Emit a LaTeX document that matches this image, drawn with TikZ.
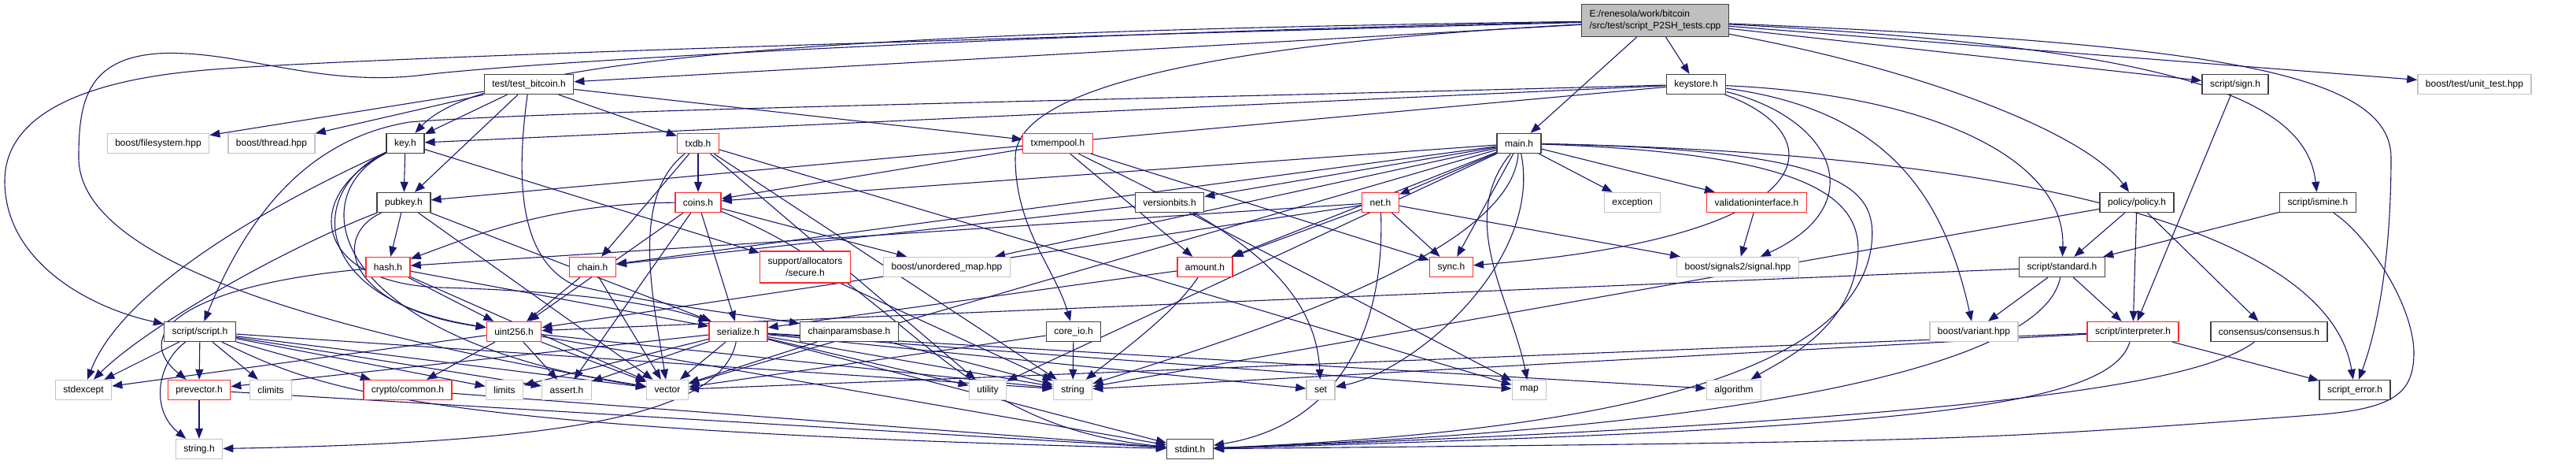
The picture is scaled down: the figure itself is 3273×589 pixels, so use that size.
\documentclass[tikz,border=0pt]{standalone}
\usepackage{fontspec}
\setmainfont{Liberation Sans}
\usetikzlibrary{arrows.meta}

\definecolor{linkblue}{HTML}{191970}
\definecolor{frameblack}{HTML}{404040}
\definecolor{framered}{HTML}{FF2A2A}
\definecolor{framegray}{HTML}{C4C4C4}
\definecolor{rootgray}{HTML}{BFBFBF}

\pgfdeclarelayer{edges}
\pgfsetlayers{edges,main}

\begin{document}
\begin{tikzpicture}[x=0.5pt, y=-0.5pt,
  >={Triangle[length=6.5pt,width=5pt]},
  hdr/.style={draw=frameblack, line width=0.7pt, fill=white,
    font=\fontsize{6}{7.5}\selectfont, inner xsep=5pt, inner ysep=0pt,
    minimum height=12.5pt},
  hdrred/.style={hdr, draw=framered},
  hdrsys/.style={hdr, draw=framegray},
  dep/.style={->, draw=linkblue, line width=0.55pt}]

\useasboundingbox (0,0) rectangle (3273,589);

\node[hdr, fill=rootgray, align=left, minimum height=20.5pt] (root) at (2103,26) {E:/renesola/work/bitcoin\\/src/test/script\_P2SH\_tests.cpp};

\node[hdr] (test_bitcoin) at (672,107) {test/test\_bitcoin.h};
\node[hdr] (keystore) at (2155,107) {keystore.h};
\node[hdr] (sign) at (2840,107) {script/sign.h};
\node[hdrsys] (unittest) at (3144,107) {boost/test/unit\_test.hpp};

\node[hdrsys] (filesystem) at (201,182) {boost/filesystem.hpp};
\node[hdrsys] (thread) at (345,182) {boost/thread.hpp};
\node[hdr] (key) at (515,182) {key.h};
\node[hdrred] (txdb) at (887,182) {txdb.h};
\node[hdrred] (txmempool) at (1344,182) {txmempool.h};
\node[hdr] (main) at (1930,182) {main.h};

\node[hdr] (pubkey) at (513,257) {pubkey.h};
\node[hdrred] (coins) at (887,257) {coins.h};
\node[hdr] (versionbits) at (1486,257) {versionbits.h};
\node[hdrred] (net) at (1754,257) {net.h};
\node[hdrsys] (exception) at (2074,257) {exception};
\node[hdrred] (validation) at (2232,257) {validationinterface.h};
\node[hdr] (policy) at (2715,257) {policy/policy.h};
\node[hdr] (ismine) at (2945,257) {script/ismine.h};

\node[hdrred] (hash) at (493,339) {hash.h};
\node[hdrred] (chain) at (753,339) {chain.h};
\node[hdrred, align=center, minimum height=20pt] (secure) at (1023,339) {support/allocators\\/secure.h};
\node[hdrsys] (unorderedmap) at (1203,339) {boost/unordered\_map.hpp};
\node[hdrred] (amount) at (1531,339) {amount.h};
\node[hdrred] (sync) at (1844,339) {sync.h};
\node[hdrsys] (signals) at (2208,339) {boost/signals2/signal.hpp};
\node[hdr] (standard) at (2620,339) {script/standard.h};

\node[hdr] (scriptscript) at (254,421) {script/script.h};
\node[hdrred] (uint) at (653,421) {uint256.h};
\node[hdrred] (serialize) at (938,421) {serialize.h};
\node[hdr] (chainparams) at (1079,421) {chainparamsbase.h};
\node[hdr] (coreio) at (1364,421) {core\_io.h};
\node[hdrsys] (variant) at (2508,421) {boost/variant.hpp};
\node[hdrred] (interpreter) at (2710,421) {script/interpreter.h};
\node[hdr] (consensus) at (2883,421) {consensus/consensus.h};

\node[hdrsys] (stdexcept) at (106,495) {stdexcept};
\node[hdrred] (prevector) at (253,495) {prevector.h};
\node[hdrsys] (climits) at (344,495) {climits};
\node[hdrred] (cryptocommon) at (518,495) {crypto/common.h};
\node[hdrsys] (limits) at (641,495) {limits};
\node[hdrsys] (assert) at (720,495) {assert.h};
\node[hdrsys] (vector) at (848,495) {vector};
\node[hdrsys] (utility) at (1255,495) {utility};
\node[hdrsys] (string) at (1363,495) {string};
\node[hdrsys] (set) at (1678,495) {set};
\node[hdrsys] (map) at (1943,495) {map};
\node[hdrsys] (algorithm) at (2203,495) {algorithm};
\node[hdr] (scripterror) at (2992,495) {script\_error.h};

\node[hdrsys] (stringh) at (253,570) {string.h};
\node[hdr] (stdint) at (1512,570) {stdint.h};

\begin{pgfonlayer}{edges}
% the test file
\draw[dep] (root) -- (test_bitcoin);
\draw[dep] (root) -- (keystore);
\draw[dep] (root) -- (main);
\draw[dep] (root) -- (sign);
\draw[dep] (root) -- (unittest);
\draw[dep] (root) .. controls (2450,90) and (2650,170) .. (policy);
\draw[dep] (root) .. controls (2750,60) and (2930,120) .. (ismine);
\draw[dep] (root) .. controls (2800,55) and (3038,90) .. (3038,200) .. controls (3038,330) and (3020,420) .. (scripterror);
\draw[dep] (root) .. controls (1100,40) and (620,70) .. (key);
\draw[dep] (root) .. controls (1550,55) and (1290,110) .. (1290,200) .. controls (1290,290) and (1340,340) .. (coreio);
\draw[dep] (root) .. controls (1200,50) and (400,75) .. (250,90) .. controls (120,102) and (6,140) .. (6,230) .. controls (6,330) and (110,390) .. (scriptscript);
\draw[dep] (root) .. controls (1400,40) and (700,75) .. (530,96) .. controls (400,110) and (300,62) .. (200,68) .. controls (110,75) and (100,130) .. (100,200) .. controls (100,330) and (400,420) .. (vector);

\draw[dep] (test_bitcoin) -- (filesystem);
\draw[dep] (test_bitcoin) -- (thread);
\draw[dep] (test_bitcoin) -- (key);
\draw[dep] (test_bitcoin) -- (pubkey);
\draw[dep] (test_bitcoin) -- (txdb);
\draw[dep] (test_bitcoin) -- (txmempool);
\draw[dep] (test_bitcoin) .. controls (655,230) and (660,330) .. (730,362) .. controls (850,390) and (950,400) .. (chainparams);

\draw[dep] (keystore) -- (key);
\draw[dep] (keystore) -- (pubkey);
\draw[dep] (keystore) .. controls (1500,125) and (700,140) .. (520,155) .. controls (400,175) and (320,260) .. (scriptscript);
\draw[dep] (keystore) .. controls (2450,120) and (2625,200) .. (standard);
\draw[dep] (keystore) .. controls (2330,150) and (2380,260) .. (signals);
\draw[dep] (keystore) .. controls (2400,140) and (2470,250) .. (variant);
\draw[dep] (keystore) .. controls (2330,170) and (2330,300) .. (sync);

\draw[dep] (sign) -- (interpreter);

\draw[dep] (key) -- (pubkey);
\draw[dep] (key) -- (secure);
\draw[dep] (key) .. controls (300,280) and (150,380) .. (stdexcept);
\draw[dep] (key) .. controls (390,240) and (390,380) .. (uint);
\draw[dep] (key) .. controls (380,250) and (400,360) .. (560,365) .. controls (750,370) and (850,390) .. (serialize);
\draw[dep] (key) .. controls (380,250) and (420,430) .. (vector);

\draw[dep] (pubkey) -- (hash);
\draw[dep] (pubkey) .. controls (350,320) and (180,420) .. (stdexcept);
\draw[dep] (pubkey) .. controls (420,300) and (440,390) .. (uint);
\draw[dep] (pubkey) -- (serialize);
\draw[dep] (pubkey) -- (vector);

\draw[dep] (txdb) -- (coins);
\draw[dep] (txdb) -- (chain);
\draw[dep] (txdb) .. controls (800,250) and (830,380) .. (vector);
\draw[dep] (txdb) -- (map);
\draw[dep] (txdb) -- (string);
\draw[dep] (txdb) -- (utility);

\draw[dep] (txmempool) -- (coins);
\draw[dep] (txmempool) -- (amount);
\draw[dep] (txmempool) -- (sync);
\draw[dep] (txmempool) .. controls (1500,260) and (1670,330) .. (set);

\draw[dep] (main) -- (coins);
\draw[dep] (main) -- (versionbits);
\draw[dep] (main) -- (chain);
\draw[dep] (main) -- (amount);
\draw[dep] (main) -- (net);
\draw[dep] (main) -- (sync);
\draw[dep] (main) -- (exception);
\draw[dep] (main) -- (validation);
\draw[dep] (main) -- (unorderedmap);
\draw[dep] (main) -- (vector);
\draw[dep] (main) -- (utility);
\draw[dep] (main) .. controls (1920,320) and (1600,420) .. (string);
\draw[dep] (main) .. controls (1960,330) and (1800,470) .. (set);
\draw[dep] (main) .. controls (1850,280) and (1920,380) .. (map);
\draw[dep] (main) .. controls (2300,195) and (2370,250) .. (2360,330) .. controls (2350,420) and (2260,460) .. (algorithm);
\draw[dep] (main) .. controls (2350,190) and (2385,240) .. (2378,310) .. controls (2360,460) and (2100,545) .. (stdint);
\draw[dep] (main) .. controls (2600,195) and (2960,300) .. (scripterror);

\draw[dep] (policy) -- (standard);
\draw[dep] (policy) -- (interpreter);
\draw[dep] (policy) -- (consensus);
\draw[dep] (policy) -- (string);

\draw[dep] (ismine) -- (standard);
\draw[dep] (ismine) .. controls (3010,300) and (3068,390) .. (3067,450) .. controls (3066,500) and (3040,518) .. (2950,526) .. controls (2500,560) .. (stdint);

\draw[dep] (coins) .. controls (700,258) and (600,300) .. (hash);
\draw[dep] (coins) -- (serialize);
\draw[dep] (coins) -- (uint);
\draw[dep] (coins) -- (assert);
\draw[dep] (coins) -- (unorderedmap);
\draw[dep] (coins) .. controls (1150,360) and (1200,540) .. (stdint);

\draw[dep] (versionbits) -- (chain);
\draw[dep] (versionbits) -- (map);

\draw[dep] (net) -- (amount);
\draw[dep] (net) -- (sync);
\draw[dep] (net) -- (uint);
\draw[dep] (net) -- (hash);
\draw[dep] (net) -- (signals);
\draw[dep] (net) .. controls (1760,420) and (1700,540) .. (stdint);

\draw[dep] (validation) -- (signals);

\draw[dep] (hash) .. controls (250,360) and (160,420) .. (prevector);
\draw[dep] (hash) -- (uint);
\draw[dep] (hash) -- (serialize);
\draw[dep] (hash) -- (vector);

\draw[dep] (chain) -- (uint);
\draw[dep] (chain) -- (vector);
\draw[dep] (secure) -- (string);
\draw[dep] (amount) -- (serialize);
\draw[dep] (amount) .. controls (1490,400) and (1420,450) .. (string);

\draw[dep] (standard) -- (interpreter);
\draw[dep] (standard) -- (variant);
\draw[dep] (standard) -- (uint);
\draw[dep] (standard) .. controls (2600,450) and (2300,540) .. (stdint);

\draw[dep] (scriptscript) -- (stdexcept);
\draw[dep] (scriptscript) -- (prevector);
\draw[dep] (scriptscript) -- (climits);
\draw[dep] (scriptscript) -- (cryptocommon);
\draw[dep] (scriptscript) .. controls (200,460) and (190,520) .. (stringh);
\draw[dep] (scriptscript) -- (assert);
\draw[dep] (scriptscript) -- (limits);
\draw[dep] (scriptscript) -- (vector);
\draw[dep] (scriptscript) .. controls (400,490) and (500,545) .. (stdint);
\draw[dep] (scriptscript) -- (string);

\draw[dep] (uint) -- (cryptocommon);
\draw[dep] (uint) -- (assert);
\draw[dep] (uint) -- (stdexcept);
\draw[dep] (uint) -- (stdint);
\draw[dep] (uint) -- (string);
\draw[dep] (uint) -- (vector);

\draw[dep] (serialize) -- (prevector);
\draw[dep] (serialize) -- (assert);
\draw[dep] (serialize) -- (limits);
\draw[dep] (serialize) -- (vector);
\draw[dep] (serialize) -- (utility);
\draw[dep] (serialize) -- (string);
\draw[dep] (serialize) -- (set);
\draw[dep] (serialize) -- (map);
\draw[dep] (serialize) -- (algorithm);
\draw[dep] (serialize) -- (stdint);
\draw[dep] (serialize) .. controls (915,530) and (700,562) .. (stringh);

\draw[dep] (chainparams) -- (string);
\draw[dep] (chainparams) -- (vector);
\draw[dep] (coreio) -- (string);
\draw[dep] (coreio) -- (vector);

\draw[dep] (interpreter) -- (scripterror);
\draw[dep] (interpreter) -- (vector);
\draw[dep] (interpreter) -- (string);
\draw[dep] (interpreter) .. controls (2680,520) and (2400,545) .. (stdint);
\draw[dep] (consensus) .. controls (2800,480) and (2600,530) .. (stdint);

\draw[dep] (prevector) -- (stringh);
\draw[dep] (prevector) -- (stdint);
\draw[dep] (cryptocommon) -- (stdint);
\end{pgfonlayer}

\end{tikzpicture}
\end{document}
